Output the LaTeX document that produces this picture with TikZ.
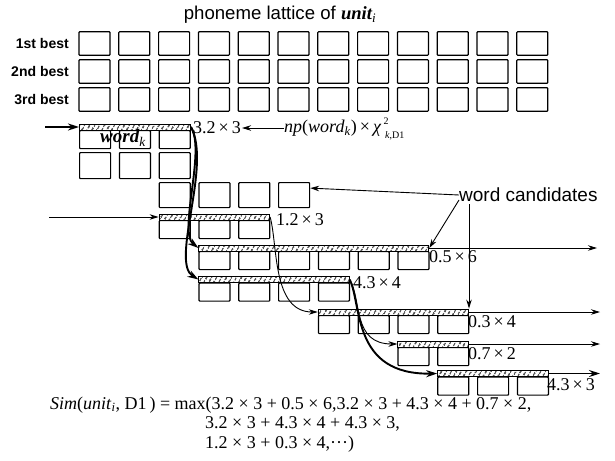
\documentclass[tikz,border=0pt]{standalone}
\usepackage{fontspec}
\setmainfont{Liberation Serif}
\setsansfont{Liberation Sans}
\usetikzlibrary{patterns.meta,arrows.meta}

\tikzset{
  cell/.style={draw, line width=1.2pt, rounded corners=0.8pt, minimum width=31pt, minimum height=23.5pt, inner sep=0pt},
  subcell/.style={cell, minimum height=18pt},
  wbar/.style={draw, line width=0.9pt, minimum height=6pt, inner sep=0pt,
    pattern={Lines[angle=60,distance=4pt,line width=1.3pt]}},
  score/.style={anchor=west, inner sep=1pt, font=\fontsize{18}{19}\selectfont},
  tiny/.style={inner sep=0pt, font=\fontsize{10}{10}\selectfont},
  formula/.style={anchor=west, inner sep=0pt, font=\fontsize{18}{19}\selectfont},
  rank/.style={anchor=east, inner sep=0pt, font=\sffamily\bfseries\fontsize{14}{16}\selectfont},
  arr/.style={line width=0.9pt, -{Stealth[length=9pt,width=5.5pt]}},
  heavy/.style={line width=1.9pt, -{Stealth[length=11pt,width=7pt]}},
}

\begin{document}
\begin{tikzpicture}[x=1pt,y=-1pt]
  \useasboundingbox[fill=white] (0,0) rectangle (615,460);
  % lattice
  \node[font=\sffamily\fontsize{18.6}{20}\selectfont] (title) at (280,15)
    {phoneme lattice of {\rmfamily\bfseries\itshape unit\textsubscript{\mdseries i}}};
  \foreach \r/\lab in {1/1st best,2/2nd best,3/3rd best}{
    \node[rank] (rank-\r) at (69,{43.5+28*(\r-1)}) {\lab};
    \foreach \c in {0,...,11}{
      \node[cell] (l-\r-\c) at ({94.5+39.8*\c},{43.5+28*(\r-1)}) {};
    }
  }
  % word hypotheses: name/first column/length/bar height
  \foreach \nm/\c/\n/\y in {wA/0/3/127,wB/2/3/217,wC/3/6/248,wD/3/4/279.5,wE/6/4/312,wF/8/2/344,wG/9/3/373.5}{
    \pgfmathsetmacro{\w}{(\n-1)*39.8+31}
    \node[wbar, minimum width=\w pt, anchor=west] (\nm) at ({79+39.8*\c},\y) {};
    \foreach \k in {1,...,\n}{
      \node[subcell, anchor=north west] (\nm-\k) at ({79+39.8*(\c+\k-1)},\y+3) {};
    }
  }
  \foreach \c in {0,1,2}{
    \node[cell, minimum height=26pt, anchor=north west] (a2-\c) at ({79+39.8*\c},152) {};
  }
  \foreach \c in {2,...,5}{
    \node[cell, minimum height=25pt, anchor=north west] (cand-\c) at ({79+39.8*\c},182) {};
  }
  \node[anchor=west, inner sep=0pt, font=\bfseries\itshape\fontsize{19}{20}\selectfont] (wk) at (100,138)
    {word\textsubscript{\mdseries k}};
  % scores
  \node[score] (sA) at (192,128) {3.2\,×\,3};
  \node[score] (sB) at (275,220) {1.2\,×\,3};
  \node[score] (sC) at (428,257) {0.5\,×\,6};
  \node[score] (sD) at (352,283) {4.3\,×\,4};
  \node[score] (sE) at (467,322) {0.3\,×\,4};
  \node[score] (sF) at (467,354) {0.7\,×\,2};
  \node[score] (sG) at (546,385) {4.3\,×\,3};
  \node[score, inner xsep=0pt] (np) at (284,128)
    {\textit{np}(\textit{word}\textsubscript{\textit{k}})\,×\,\textit{χ}\kern3pt};
  \node[tiny, anchor=south west] (npsup) at ([xshift=-1pt,yshift=3pt]np.east) {2};
  \node[tiny, anchor=north west] (npsub) at ([xshift=0.5pt,yshift=-3.5pt]np.east) {\textit{k},D1};
  \node[anchor=west, inner sep=0pt, font=\sffamily\fontsize{19}{20}\selectfont] (wc) at (459,195) {word candidates};
  % connectors
  \coordinate (inA) at (45,127);
  \coordinate (inB) at (49,217);
  \coordinate (outC) at (597,248);
  \coordinate (outE) at (600,312);
  \coordinate (outF) at (600,344);
  \coordinate (outG) at (600,373.5);
  \coordinate (wcv) at (469,204);
  \draw[heavy] (inA) -- (wA.west);
  \draw[arr] (inB) -- (wB.west);
  \draw[arr] (np.west) -- (sA.east);
  \draw[arr] (wC.east) -- (outC);
  \draw[arr] (wE.east) -- (outE);
  \draw[arr] (wF.east) -- (outF);
  \draw[line width=1.3pt, -{Stealth[length=11pt,width=7pt]}] (wG.east) -- (outG);
  \draw[arr] (wc.west) -- ([yshift=7pt]cand-5.east);
  \draw[arr] ([yshift=-5pt]wc.west) -- (wC.east);
  \draw[arr] (wcv) -- (wcv |- wE.north);
  \draw[heavy] (wA.east) .. controls (206,150) and (178,232) .. (wC.west);
  \draw[heavy] (wA.east) .. controls (212,165) and (170,262) .. (wD.west);
  \draw[arr] (wB.east) .. controls (278,245) and (272,312) .. (wE.west);
  \draw[arr] (wD.east) .. controls (362,300) and (352,344) .. (wF.west);
  \draw[heavy] (wD.east) .. controls (362,305) and (352,375) .. (wG.west);
  % similarity
  \node[formula] (f1) at (50,405)
    {\textit{Sim}(\textit{unit}\textsubscript{\textit{i}},\ D1\,) = max(3.2 × 3 + 0.5 × 6,3.2 × 3 + 4.3 × 4 + 0.7 × 2,};
  \node[formula] (f2) at (205,424) {3.2 × 3 + 4.3 × 4 + 4.3 × 3,};
  \node[formula] (f3) at (205,444) {1.2 × 3 + 0.3 × 4,···)};
\end{tikzpicture}
\end{document}
